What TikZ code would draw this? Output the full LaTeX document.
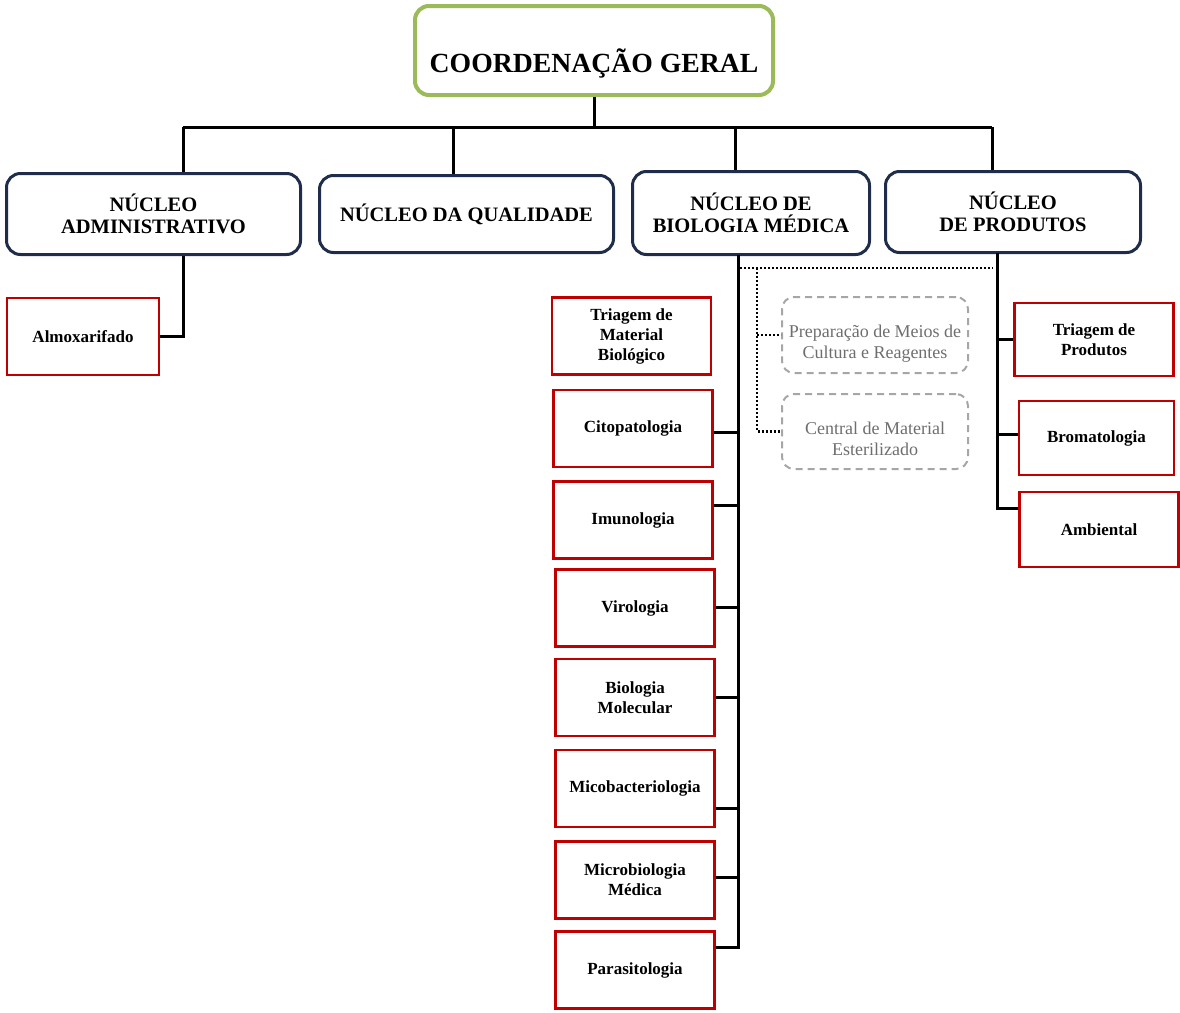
\documentclass[tikz,border=0pt]{standalone}
\usepackage{fontspec}
\setmainfont{Liberation Serif}
\usepackage{tikz}
\usepackage{xcolor}
\usetikzlibrary{positioning}

\definecolor{verdeGeral}{HTML}{9BBB59}
\definecolor{azulNucleo}{HTML}{1F2D4A}
\definecolor{vermelhoSetor}{HTML}{C00000}
\definecolor{cinzaApoio}{HTML}{A6A6A6}
\definecolor{cinzaTexto}{HTML}{6E6E6E}

\begin{document}
\begin{tikzpicture}[x=1pt, y=-1pt,
    geral/.style={draw=verdeGeral, line width=4pt, rounded corners=14pt, minimum width=358pt, minimum height=89pt,
        text height=50pt, text depth=7pt, font=\fontsize{27.7}{30}\selectfont\bfseries},
    nucleo/.style={draw=azulNucleo, line width=3pt, rounded corners=14pt, align=center,
        font=\fontsize{20.5}{22}\selectfont\bfseries},
    setor/.style={draw=vermelhoSetor, line width=2.5pt, align=center, minimum width=159pt, minimum height=77pt,
        font=\fontsize{17}{20}\selectfont\bfseries},
    apoio/.style={draw=cinzaApoio, line width=2pt, dash pattern=on 7pt off 5pt, rounded corners=12pt, align=center,
        minimum width=186pt, minimum height=76pt, text height=51pt, text depth=4pt,
        text=cinzaTexto, font=\fontsize{18}{21}\selectfont},
    ligacao/.style={line width=3pt},
    pontilhado/.style={line width=2.5pt, dash pattern=on 2pt off 2pt}]

    \useasboundingbox (0,0) rectangle (1180,1012);

    % Coordenacao geral
    \node[geral] (geral) at (594,50.5) {COORDENAÇÃO GERAL};

    % Nucleos
    \node[nucleo, minimum width=294pt, minimum height=81pt] (adm) at (153.5,214) {NÚCLEO\\ADMINISTRATIVO};
    \node[nucleo, minimum width=294pt, minimum height=77pt] (qual) at (466.5,214) {NÚCLEO DA QUALIDADE};
    \node[nucleo, minimum width=237pt, minimum height=83pt] (bio) at (751,213) {NÚCLEO DE\\BIOLOGIA MÉDICA};
    \node[nucleo, minimum width=255pt, minimum height=81pt] (prod) at (1013,212) {NÚCLEO\\DE PRODUTOS};

    % Setores
    \node[setor, minimum width=152pt] (almox) at (83,336.5) {Almoxarifado};
    \node[setor] (triagemMB) at (631.5,336) {Triagem de\\Material\\Biológico};
    \node[setor] (cito) at (633,428.5) {Citopatologia};
    \node[setor] (imuno) at (633,520) {Imunologia};
    \node[setor] (viro) at (635,608) {Virologia};
    \node[setor] (biomol) at (635,697.5) {Biologia\\Molecular};
    \node[setor] (micobac) at (635,788.5) {Micobacteriologia};
    \node[setor] (microbio) at (635,880) {Microbiologia\\Médica};
    \node[setor] (parasit) at (635,970) {Parasitologia};
    \node[setor, minimum height=73pt] (triagemP) at (1094,339.5) {Triagem de\\Produtos};
    \node[setor, minimum width=155pt, minimum height=74pt] (broma) at (1096.5,438) {Bromatologia};
    \node[setor, minimum height=75pt] (ambiental) at (1099,529.5) {Ambiental};

    % Apoio
    \node[apoio] (prep) at (875,335) {Preparação de Meios de\\Cultura e Reagentes};
    \node[apoio, minimum height=75pt] (central) at (875,431.5) {Central de Material\\Esterilizado};

    % Barra principal
    \coordinate (bAdm) at (183,127);
    \coordinate (bQual) at (453,127);
    \coordinate (bBio) at (735,127);
    \coordinate (bProd) at (992,127);
    \draw[ligacao] (geral.south) -- (geral.south |- bAdm);
    \draw[ligacao] (bAdm) -- (bProd);
    \foreach \b/\n in {bAdm/adm, bQual/qual, bBio/bio, bProd/prod}
        \draw[ligacao] (\b) -- (\b |- \n.north);

    % Administrativo
    \draw[ligacao] (bAdm |- adm.south) |- (almox.east);

    % Biologia medica
    \coordinate (tBio) at (738,255);
    \foreach \n/\d in {cito/-3.5, imuno/15, viro/1, biomol/0.5, micobac/-19.5, microbio/3, parasit/23}
        \draw[ligacao] ([yshift=\d pt]\n.east) -| (tBio);

    % Produtos
    \coordinate (tProd) at (997,253);
    \foreach \n/\d in {triagemP/0, broma/4, ambiental/21.5}
        \draw[ligacao] ([yshift=\d pt]\n.west) -| (tProd);

    % Pontilhado
    \coordinate (pBio) at (740,268);
    \coordinate (pProd) at (993,268);
    \coordinate (pApoio) at (757,268);
    \draw[pontilhado] (pBio) -- (pProd);
    \draw[pontilhado] (pApoio) |- (central.west);
    \draw[pontilhado] (pApoio |- prep.west) -- (prep.west);
\end{tikzpicture}
\end{document}
